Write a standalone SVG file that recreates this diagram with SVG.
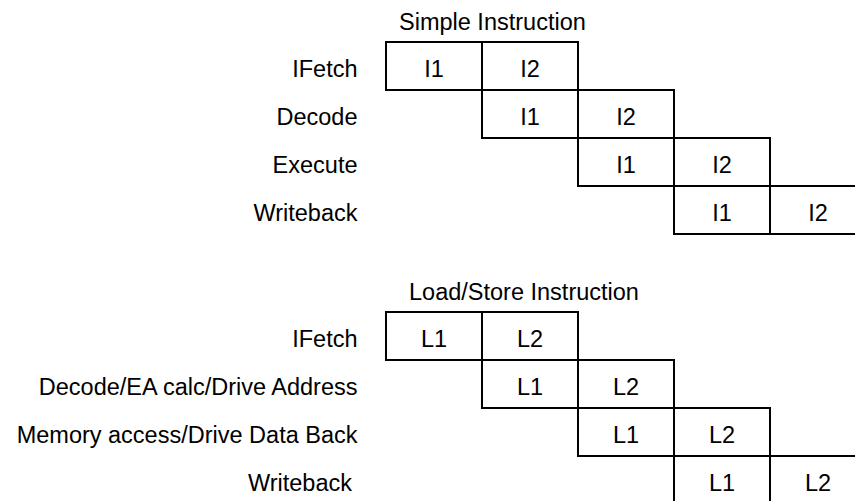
<svg xmlns="http://www.w3.org/2000/svg" width="855" height="501" viewBox="0 0 855 501">
<style>
text{font-family:"Liberation Sans",Arial,Helvetica,sans-serif;font-size:23.5px;fill:#000}
.lbl{text-anchor:end}
.c{text-anchor:middle}
.box{fill:none;stroke:#000;stroke-width:2}
</style>
<rect width="855" height="501" fill="#fff"/>
<g id="simple">
<text id="simple-title" x="399" y="30">Simple Instruction</text>
<g id="s-ifetch"><text class="lbl" x="357.5" y="77">IFetch</text><rect class="box" x="386" y="42" width="192" height="48"/><line class="box" x1="482" y1="42" x2="482" y2="90"/><text class="c" x="434" y="77">I1</text><text class="c" x="530" y="77">I2</text></g>
<g id="s-decode"><text class="lbl" x="357.5" y="125">Decode</text><rect class="box" x="482" y="90" width="192" height="48"/><line class="box" x1="578" y1="90" x2="578" y2="138"/><text class="c" x="530" y="125">I1</text><text class="c" x="626" y="125">I2</text></g>
<g id="s-execute"><text class="lbl" x="357.5" y="173">Execute</text><rect class="box" x="578" y="138" width="192" height="48"/><line class="box" x1="674" y1="138" x2="674" y2="186"/><text class="c" x="626" y="173">I1</text><text class="c" x="722" y="173">I2</text></g>
<g id="s-writeback"><text class="lbl" x="357.5" y="221">Writeback</text><rect class="box" x="674" y="186" width="192" height="48"/><line class="box" x1="770" y1="186" x2="770" y2="234"/><text class="c" x="722" y="221">I1</text><text class="c" x="818" y="221">I2</text></g>
</g>
<g id="loadstore">
<text id="ls-title" x="409" y="300">Load/Store Instruction</text>
<g id="l-ifetch"><text class="lbl" x="357.5" y="347">IFetch</text><rect class="box" x="386" y="312" width="192" height="48"/><line class="box" x1="482" y1="312" x2="482" y2="360"/><text class="c" x="434" y="347">L1</text><text class="c" x="530" y="347">L2</text></g>
<g id="l-decode"><text class="lbl" x="357.5" y="395">Decode/EA calc/Drive Address</text><rect class="box" x="482" y="360" width="192" height="48"/><line class="box" x1="578" y1="360" x2="578" y2="408"/><text class="c" x="530" y="395">L1</text><text class="c" x="626" y="395">L2</text></g>
<g id="l-memory"><text class="lbl" x="357.5" y="443">Memory access/Drive Data Back</text><rect class="box" x="578" y="408" width="192" height="48"/><line class="box" x1="674" y1="408" x2="674" y2="456"/><text class="c" x="626" y="443">L1</text><text class="c" x="722" y="443">L2</text></g>
<g id="l-writeback"><text class="lbl" x="352" y="491">Writeback</text><rect class="box" x="674" y="456" width="192" height="48"/><line class="box" x1="770" y1="456" x2="770" y2="504"/><text class="c" x="722" y="491">L1</text><text class="c" x="818" y="491">L2</text></g>
</g>
</svg>
